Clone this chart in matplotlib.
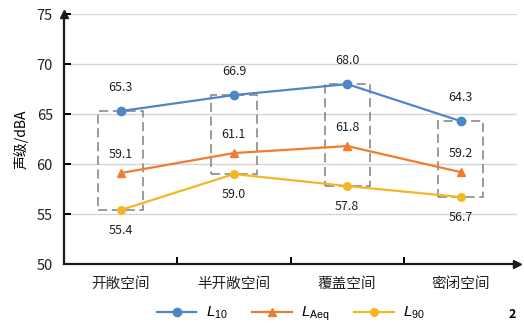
import matplotlib
matplotlib.use("Agg")
import matplotlib.pyplot as plt
from matplotlib.patches import Rectangle

plt.rcParams['font.family'] = ['Noto Sans CJK SC', 'DejaVu Sans']
plt.rcParams['mathtext.fontset'] = 'custom'
plt.rcParams['mathtext.it'] = 'Liberation Sans:italic'
plt.rcParams['mathtext.rm'] = 'Liberation Sans'

categories = ['开敞空间', '半开敞空间', '覆盖空间', '密闭空间']
l10 = [65.3, 66.9, 68.0, 64.3]
laeq = [59.1, 61.1, 61.8, 59.2]
l90 = [55.4, 59.0, 57.8, 56.7]
y_ticks = [50, 55, 60, 65, 70, 75]

c_l10 = '#4F86C6'
c_laeq = '#ED7D31'
c_l90 = '#F2B824'

fig = plt.figure(figsize=(5.24, 3.28), dpi=100)
ax = fig.add_axes([0.122, 0.195, 0.865, 0.762])

x = list(range(len(categories)))
ax.set_xlim(-0.5, 3.5)
ax.set_ylim(50, 75)

for yv in y_ticks[1:]:
    ax.axhline(yv, color='#d4d4d4', lw=1.0, zorder=0)

# dashed range boxes from L90 to L10
for xi, lo, hi in zip(x, l90, l10):
    ax.add_patch(Rectangle((xi - 0.2, lo), 0.4, hi - lo, fill=False,
                           edgecolor='#808080', lw=1.1, ls=(0, (6, 3)), zorder=1))

ax.plot(x, l10, color=c_l10, lw=1.6, marker='o', ms=6, label='$L_{10}$', zorder=3)
ax.plot(x, laeq, color=c_laeq, lw=1.6, marker='^', ms=5.8, label='$L_{\\mathrm{Aeq}}$', zorder=3)
ax.plot(x, l90, color=c_l90, lw=1.6, marker='o', ms=5.5, label='$L_{90}$', zorder=3)

fs_lab = 9
for xi, v in zip(x, l10):
    ax.annotate(f'{v:.1f}', (xi, v), xytext=(0, 12), textcoords='offset points',
                ha='center', va='bottom', fontsize=fs_lab, color='#222222')
for xi, v in zip(x, laeq):
    ax.annotate(f'{v:.1f}', (xi, v), xytext=(0, 9), textcoords='offset points',
                ha='center', va='bottom', fontsize=fs_lab, color='#222222')
for xi, v in zip(x, l90):
    ax.annotate(f'{v:.1f}', (xi, v), xytext=(0, -10), textcoords='offset points',
                ha='center', va='top', fontsize=fs_lab, color='#222222')

for s in ['top', 'right']:
    ax.spines[s].set_visible(False)
for s in ['left', 'bottom']:
    ax.spines[s].set_linewidth(1.6)
    ax.spines[s].set_color('#1a1a1a')

# axis arrows
ax.plot(0, 1.0, marker='^', color='#1a1a1a', ms=6, transform=ax.transAxes, clip_on=False)
ax.plot(1.0, 0, marker='>', color='#1a1a1a', ms=6, transform=ax.transAxes, clip_on=False)

ax.set_yticks(y_ticks)
ax.set_yticklabels([str(t) for t in y_ticks], fontsize=10.5, color='#222222')
ax.tick_params(axis='y', direction='in', length=5, width=1.4, pad=8)

ax.set_xticks(x)
ax.set_xticklabels(categories, fontsize=10.5, color='#222222')
ax.tick_params(axis='x', length=0, pad=9)
ax.set_xticks([0.5, 1.5, 2.5], minor=True)
ax.tick_params(axis='x', which='minor', direction='in', length=5, width=1.4)

ax.set_ylabel('声级/dBA', fontsize=10, labelpad=6)

fig.legend(loc='center', bbox_to_anchor=(0.555, 0.044), ncol=3, frameon=False,
           fontsize=11, handlelength=2.6, columnspacing=1.6, handletextpad=0.6)

fig.text(0.985, 0.04, '2', fontsize=9, fontweight='bold', ha='right', va='center')

fig.savefig('out.png', dpi=100)
